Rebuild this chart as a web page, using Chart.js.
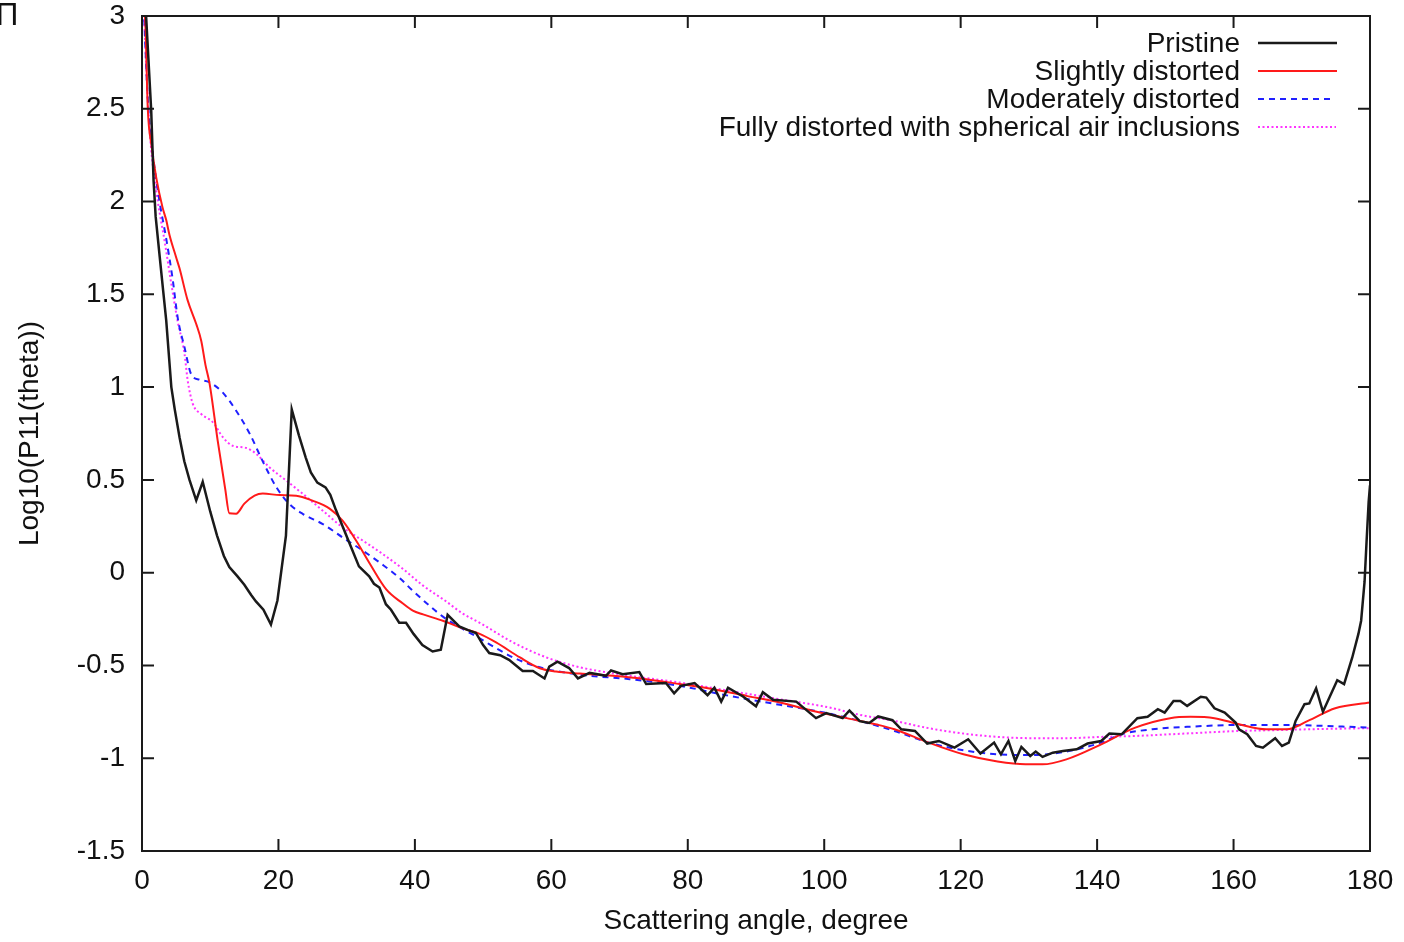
<!DOCTYPE html>
<html>
<head>
<meta charset="utf-8">
<script src="https://cdn.jsdelivr.net/npm/chart.js@4.4.0/dist/chart.umd.min.js"></script>
<style>
body{margin:0;background:#fff;}
#wrap{position:relative;width:1404px;height:942px;font-family:"Liberation Sans",Arial,sans-serif;color:#111;}
#wrap canvas{position:absolute;left:0;top:0;}
.key{position:absolute;right:164px;font-size:28px;line-height:28px;white-space:nowrap;}
.corner{position:absolute;left:-4px;top:-1px;font-size:31px;line-height:32px;}
#keyLines{position:absolute;left:1250px;top:30px;}
</style>
</head>
<body>
<div id="wrap">
  <canvas id="phaseBox" width="1404" height="942"></canvas>
  <div class="corner">П</div>
  <div class="key" style="top:29px">Pristine</div>
  <div class="key" style="top:57px">Slightly distorted</div>
  <div class="key" style="top:85px">Moderately distorted</div>
  <div class="key" style="top:113px">Fully distorted with spherical air inclusions</div>
  <svg id="keyLines" width="100" height="110">
    <line x1="8" y1="13" x2="87" y2="13" stroke="#1a1a1a" stroke-width="2.5"/>
    <line x1="8" y1="41" x2="87" y2="41" stroke="#ff1a1a" stroke-width="2"/>
    <line x1="8" y1="69" x2="84" y2="69" stroke="#2020ff" stroke-width="2" stroke-dasharray="6,5"/>
    <line x1="8" y1="97" x2="86" y2="97" stroke="#ff33ff" stroke-width="2" stroke-dasharray="2,2.5"/>
  </svg>
</div>
<script>
// angle (degree), log10(P11)
var pristine = [
  [0.2,3.1],[0.6,3.0],[1.35,2.49],[1.7,2.11],[2.0,1.92],[2.6,1.7],[3.1,1.52],[3.55,1.36],
  [4.3,1.0],[4.8,0.88],[5.5,0.73],[6.2,0.6],[6.96,0.5],[7.95,0.39],[8.9,0.49],[10.0,0.33],
  [11.0,0.2],[12.0,0.09],[12.8,0.03],[14.0,-0.02],[15.0,-0.065],[16.0,-0.12],[16.7,-0.155],
  [17.8,-0.2],[18.9,-0.28],[19.85,-0.15],[21.1,0.2],[21.95,0.88],[23.0,0.74],[24.0,0.62],
  [24.75,0.54],[25.7,0.485],[26.9,0.46],[27.6,0.42],[28.4,0.34],[29.4,0.25],[30.4,0.16],
  [31.8,0.034],[33.3,-0.02],[34.0,-0.06],[34.8,-0.08],[35.75,-0.17],[36.5,-0.2],[37.7,-0.27],
  [38.7,-0.27],[39.8,-0.33],[41.1,-0.39],[42.6,-0.425],[43.8,-0.415],[44.8,-0.227],[46.5,-0.29],
  [47.8,-0.31],[48.95,-0.325],[50.0,-0.39],[50.9,-0.433],[52.5,-0.445],[53.8,-0.47],[55.8,-0.53],
  [57.3,-0.53],[59.0,-0.57],[59.7,-0.506],[60.9,-0.48],[62.6,-0.514],[63.9,-0.57],[65.6,-0.54],
  [68.0,-0.556],[68.75,-0.527],[70.45,-0.547],[72.9,-0.536],[73.9,-0.6],[76.8,-0.595],[78.0,-0.65],
  [79.0,-0.61],[81.0,-0.595],[82.9,-0.66],[83.9,-0.62],[84.9,-0.695],[85.9,-0.62],[88.1,-0.667],
  [90.0,-0.72],[91.0,-0.644],[92.5,-0.685],[95.9,-0.695],[98.8,-0.784],[100.3,-0.757],[102.7,-0.784],
  [103.7,-0.743],[105.2,-0.8],[106.6,-0.81],[107.9,-0.775],[110.0,-0.795],[111.3,-0.844],[113.3,-0.853],
  [115.1,-0.921],[116.8,-0.907],[119.1,-0.943],[121.1,-0.898],[122.9,-0.975],[124.9,-0.916],
  [125.9,-0.979],[127.0,-0.907],[128.0,-1.015],[128.9,-0.939],[130.2,-0.988],[131.0,-0.964],
  [132.0,-0.993],[133.5,-0.97],[135.0,-0.961],[137.0,-0.952],[138.6,-0.921],[140.6,-0.907],
  [141.8,-0.867],[143.6,-0.871],[145.9,-0.784],[147.4,-0.777],[148.9,-0.736],[149.9,-0.754],
  [151.2,-0.691],[152.2,-0.691],[153.2,-0.718],[155.2,-0.669],[156.0,-0.673],[157.2,-0.731],
  [158.7,-0.754],[160.3,-0.808],[160.8,-0.844],[162.0,-0.871],[163.3,-0.934],[164.3,-0.943],
  [166.1,-0.892],[167.1,-0.934],[168.1,-0.916],[169.1,-0.799],[170.4,-0.709],[171.1,-0.705],
  [172.1,-0.623],[173.1,-0.749],[175.2,-0.58],[176.2,-0.601],[177.4,-0.457],[178.3,-0.33],
  [178.7,-0.259],[179.2,-0.05],[179.5,0.17],[179.8,0.38],[180,0.47]
];
var slightly = [
  [0.2,3.1],[0.5,2.95],[0.85,2.5],[1.4,2.3],[2.08,2.13],[3.0,1.97],[3.55,1.9],[4.03,1.82],
  [5.0,1.7],[5.5,1.64],[6.67,1.47],[7.95,1.34],[8.68,1.25],[9.3,1.12],[9.9,1.02],[11.1,0.71],
  [12.2,0.45],[12.8,0.32],[13.8,0.318],[15.0,0.372],[16.5,0.415],[17.7,0.426],[20.2,0.418],
  [22.6,0.415],[25.0,0.388],[27.5,0.345],[29.4,0.28],[31.4,0.172],[33.4,0.048],[35.8,-0.09],
  [38.2,-0.165],[39.7,-0.205],[41.2,-0.225],[44.1,-0.259],[47.0,-0.3],[49.5,-0.33],[51.9,-0.376],
  [55.4,-0.457],[58.3,-0.515],[60.7,-0.533],[64.2,-0.544],[69.0,-0.556],[73.9,-0.574],[78.8,-0.6],
  [83.7,-0.628],[88.6,-0.664],[93.5,-0.7],[98.4,-0.745],[103.3,-0.784],[107.9,-0.82],[110.3,-0.844],
  [115.3,-0.916],[120.4,-0.979],[125.4,-1.018],[129.5,-1.033],[132.0,-1.033],[135.5,-1.006],
  [140.6,-0.925],[145.6,-0.835],[150.7,-0.784],[153.7,-0.777],[157.2,-0.784],[160.8,-0.817],
  [164.8,-0.844],[167.8,-0.844],[170.9,-0.799],[174.9,-0.731],[180,-0.7]
];
var moderately = [
  [0.2,3.1],[0.85,2.55],[1.58,2.26],[2.57,2.0],[3.55,1.8],[4.5,1.58],[5.25,1.37],[6.23,1.215],
  [7.2,1.07],[8.43,1.04],[9.9,1.026],[11.85,0.97],[13.8,0.873],[15.8,0.748],[17.7,0.6],[19.7,0.46],
  [21.6,0.37],[23.6,0.316],[26.5,0.262],[29.4,0.19],[32.4,0.118],[35.0,0.05],[37.8,-0.03],
  [39.7,-0.098],[42.2,-0.18],[44.4,-0.245],[49.3,-0.35],[54.4,-0.457],[58.3,-0.51],[64.2,-0.55],
  [71.5,-0.574],[78.8,-0.61],[86.1,-0.664],[93.5,-0.712],[100.8,-0.76],[105.2,-0.799],[110.3,-0.853],
  [115.3,-0.916],[120.4,-0.957],[125.4,-0.979],[130.5,-0.983],[135.5,-0.964],[140.6,-0.916],
  [143.6,-0.871],[148.1,-0.844],[153.2,-0.831],[160.8,-0.821],[168.3,-0.821],[173.4,-0.826],[180,-0.835]
];
var fully = [
  [0.2,3.1],[0.85,2.55],[1.35,2.28],[2.32,2.0],[3.3,1.79],[4.28,1.56],[5.2,1.36],[6.23,1.18],
  [6.7,1.035],[7.45,0.91],[8.68,0.855],[10.4,0.81],[11.85,0.73],[13.3,0.684],[15.3,0.672],
  [16.75,0.64],[18.7,0.567],[21.15,0.496],[23.6,0.424],[26.5,0.334],[29.4,0.244],[32.4,0.172],
  [35.3,0.1],[38.25,0.02],[41.2,-0.07],[44.4,-0.15],[47.0,-0.22],[49.5,-0.27],[54.4,-0.376],
  [59.3,-0.457],[64.2,-0.51],[71.5,-0.556],[78.8,-0.592],[86.1,-0.637],[93.5,-0.682],[100.8,-0.727],
  [105.2,-0.766],[110.3,-0.799],[115.3,-0.838],[120.4,-0.867],[125.4,-0.885],[130.5,-0.892],
  [135.5,-0.892],[140.6,-0.885],[145.6,-0.88],[150.7,-0.871],[155.7,-0.862],[160.8,-0.853],
  [165.8,-0.849],[170.9,-0.844],[180,-0.838]
];
var seriesNames = ['Pristine','Slightly distorted','Moderately distorted','Fully distorted with spherical air inclusions'];
var xTicks = [0,20,40,60,80,100,120,140,160,180];
var yTicks = [-1.5,-1,-0.5,0,0.5,1,1.5,2,2.5,3];

function toPoints(list){
  return list.map(function(p){ return {x:p[0], y:p[1]}; });
}

// gnuplot style box with inward ticks
var frame = {
  id:'frame',
  afterDraw:function(chart){
    var c = chart.ctx, a = chart.chartArea, xs = chart.scales.x, ys = chart.scales.y;
    c.save();
    c.strokeStyle = '#1a1a1a';
    c.lineWidth = 2;
    c.beginPath();
    xTicks.forEach(function(v){
      var p = xs.getPixelForValue(v);
      c.moveTo(p,a.bottom); c.lineTo(p,a.bottom-12);
      c.moveTo(p,a.top); c.lineTo(p,a.top+12);
    });
    yTicks.forEach(function(v){
      var p = ys.getPixelForValue(v);
      c.moveTo(a.left,p); c.lineTo(a.left+12,p);
      c.moveTo(a.right,p); c.lineTo(a.right-12,p);
    });
    c.stroke();
    c.strokeRect(a.left,a.top,a.right-a.left,a.bottom-a.top);
    c.restore();
  }
};

var font = {family:'"Liberation Sans", Arial, sans-serif', size:28};

new Chart(document.getElementById('phaseBox'), {
  type:'line',
  data:{
    datasets:[
      {label:seriesNames[0], data:toPoints(pristine), borderColor:'#1a1a1a', borderWidth:2.5, tension:0},
      {label:seriesNames[1], data:toPoints(slightly), borderColor:'#ff1a1a', borderWidth:2, cubicInterpolationMode:'monotone'},
      {label:seriesNames[2], data:toPoints(moderately), borderColor:'#2020ff', borderWidth:2, borderDash:[6,5], cubicInterpolationMode:'monotone'},
      {label:seriesNames[3], data:toPoints(fully), borderColor:'#ff33ff', borderWidth:2, borderDash:[2,2.5], cubicInterpolationMode:'monotone'}
    ]
  },
  options:{
    responsive:false,
    animation:false,
    layout:{padding:{top:16, right:34, left:0, bottom:0}},
    elements:{point:{radius:0}},
    plugins:{legend:{display:false}, tooltip:{enabled:false}},
    scales:{
      x:{
        type:'linear', min:0, max:180,
        afterBuildTicks:function(s){ s.ticks = xTicks.map(function(v){return {value:v};}); },
        afterFit:function(s){ s.height = 91; s.paddingLeft = 0; s.paddingRight = 0; },
        grid:{display:false, drawTicks:false},
        border:{display:false},
        ticks:{font:font, color:'#111', padding:13, maxRotation:0},
        title:{display:true, text:'Scattering angle, degree', font:font, color:'#111', padding:{top:0, bottom:4}}
      },
      y:{
        min:-1.5, max:3,
        afterBuildTicks:function(s){ s.ticks = yTicks.map(function(v){return {value:v};}); },
        afterFit:function(s){ s.width = 142; s.paddingTop = 0; s.paddingBottom = 0; },
        grid:{display:false, drawTicks:false},
        border:{display:false},
        ticks:{font:font, color:'#111', padding:17, callback:function(v){ return String(v); }},
        title:{display:true, text:'Log10(P11(theta))', font:font, color:'#111', padding:{top:13, bottom:0}}
      }
    }
  },
  plugins:[frame]
});
</script>
</body>
</html>
